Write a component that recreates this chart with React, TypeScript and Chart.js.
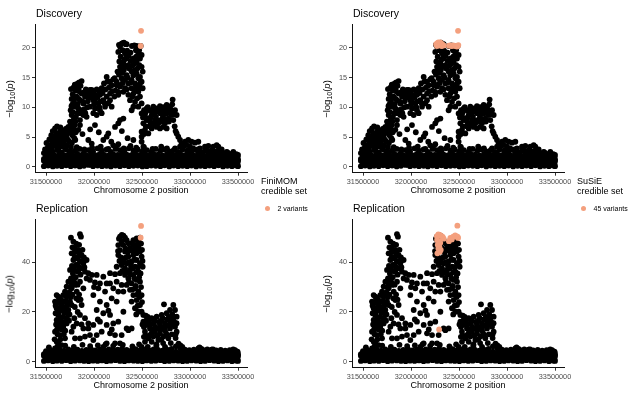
import React, { useEffect, useRef } from 'react';
import { Chart, registerables } from 'chart.js';

Chart.register(...registerables);

const FONT = '"Liberation Sans", Arial, Helvetica, sans-serif';
const ORANGE = '#F4A07E';
const R = 2.9;

// ---- axis ticks ----
const X_TICKS = [31500000, 32000000, 32500000, 33000000, 33500000];
const DISC_Y_TICKS = [0, 5, 10, 15, 20];
const REP_Y_TICKS = [0, 20, 40];

// ---- positions (kb) of the dense low -log10(p) band ----
const rowXA = [31478, 31522, 31571, 31615, 31664, 31710, 31757, 31803, 31851, 31896, 31944, 31990, 32037, 32083, 32131, 32176, 32224, 32270, 32317, 32363, 32411, 32456, 32504, 32550, 32597, 32643, 32691, 32736, 32784, 32830, 32877, 32923, 32971, 33016, 33064, 33110, 33157, 33203, 33251, 33296, 33344, 33390, 33437, 33482, 33500];
const rowXB = [31500, 31546, 31593, 31640, 31687, 31733, 31780, 31827, 31873, 31920, 31967, 32013, 32060, 32107, 32153, 32200, 32247, 32293, 32340, 32387, 32433, 32480, 32527, 32573, 32620, 32667, 32713, 32760, 32807, 32853, 32900, 32947, 32993, 33040, 33087, 33133, 33180, 33227, 33273, 33320, 33367, 33413, 33460, 33495];

// ---- Discovery band values ----
const discYA = [0.1, 0.2, 0.05, 0.15, 0.1, 0.25, 0.1, 0.2, 0.05, 0.15, 0.3, 0.1, 0.2, 0.1, 0.15, 0.05, 0.2, 0.1, 0.25, 0.1, 0.15, 0.2, 0.05, 0.1, 0.2, 0.15, 0.1, 0.25, 0.05, 0.2, 0.1, 0.15, 0.1, 0.2, 0.05, 0.15, 0.1, 0.2, 0.1, 0.25, 0.05, 0.15, 0.1, 0.2, 0.1];
const discYA2 = [0.4, 0.45, 0.35, 0.5, 0.4, 0.45, 0.35, 0.5, 0.4, 0.45, 0.35, 0.4, 0.5, 0.45, 0.35, 0.4, 0.5, 0.4, 0.45, 0.35, 0.5, 0.4, 0.45, 0.35, 0.4, 0.5, 0.45, 0.4, 0.35, 0.5, 0.4, 0.45, 0.35, 0.4, 0.5, 0.45, 0.4, 0.35, 0.5, 0.4, 0.45, 0.35, 0.4, 0.45];
const discYB = [0.7, 0.8, 0.65, 0.9, 0.75, 0.7, 0.85, 0.6, 0.8, 0.7, 0.9, 0.65, 0.75, 0.8, 0.7, 0.85, 0.6, 0.75, 0.9, 0.7, 0.8, 0.65, 0.75, 0.85, 0.7, 0.8, 0.6, 0.9, 0.75, 0.7, 0.8, 0.65, 0.85, 0.7, 0.75, 0.8, 0.6, 0.9, 0.7, 0.75, 0.8, 0.65, 0.7, 0.8];
const discYB2 = [1.0, 1.05, 0.95, 1.1, 1.0, 1.05, 0.95, 1.0, 1.1, 1.05, 0.95, 1.0, 1.05, 1.1, 0.95, 1.0, 1.05, 1.0, 0.95, 1.1, 1.05, 1.0, 0.95, 1.05, 1.1, 1.0, 0.95, 1.05, 1.0, 1.1, 0.95, 1.0, 1.05, 1.1, 1.0, 0.95, 1.05, 1.0, 1.1, 0.95, 1.0, 1.05, 1.0, 0.95, 1.0];
const discYC = [1.3, 1.4, 1.2, 1.5, 1.35, 1.25, 1.45, 1.3, 1.4, 1.2, 1.5, 1.35, 1.3, 1.45, 1.25, 1.4, 1.3, 1.5, 1.2, 1.35, 1.45, 1.3, 1.4, 1.25, 1.5, 1.35, 1.3, 1.45, 1.2, 1.4, 1.3, 1.5, 1.35, 1.25, 1.4, 1.3, 1.45, 1.2, 1.35, 1.4, 1.3, 1.25, 1.45, 1.3, 1.2];
const discYC2 = [1.6, 1.65, 1.55, 1.7, 1.6, 1.65, 1.55, 1.6, 1.7, 1.65, 1.55, 1.6, 1.65, 1.7, 1.55, 1.6, 1.65, 1.6, 1.55, 1.7, 1.65, 1.6, 1.55, 1.65, 1.7, 1.6, 1.55, 1.65, 1.6, 1.7, 1.55, 1.6, 1.65, 1.7, 1.6, 1.55, 1.65, 1.6, 1.7, 1.55, 1.6, 1.65, 1.6, 1.55];
const discYD = [1.9, 2.0, 1.85, 2.1, 1.95, 2.05, 1.9, 2.15, 2.0, 1.9, 2.1, 1.95, 2.15, 2.0, 1.9, 2.1, 2.0, 2.15, 2.05, 1.95, 2.1, 2.0, 2.1, 1.95, 2.15, 2.05, 1.9, 2.1, 2.15, 2.0, 2.1, 1.95, 2.05, 1.9, 2.1, 2.0, 1.9, 2.05, 1.95, 1.9, 1.85, 1.95, 1.8, 1.75];
const discYE = [2.3, 2.6, 2.5, 2.8, 2.4, 2.9, 2.6, 2.7, 3.0, 2.5, 2.8, 2.6, 3.1, 2.7, 2.9, 2.5, 3.0, 2.8, 2.6, 3.1, 2.7, 2.9, 2.6, 2.8, 2.5, 3.0, 2.7, 2.9, 2.6, 2.8, 2.5, 2.9, 2.7, 2.6, 2.8, 2.5, 2.7, 2.4, 2.6, 2.5, 2.3, 2.4, 2.2, 2.1, 2.0];
const discTop = [[31560, 3.0], [31700, 3.1], [31820, 3.3], [31900, 2.9], [31980, 3.2], [32070, 3.4], [32150, 3.0], [32230, 3.3], [32310, 3.1], [32380, 3.5], [32440, 3.2], [32520, 3.3], [32610, 3.0], [32700, 3.4], [32760, 3.1], [33000, 3.0], [33080, 2.9], [33300, 2.8]];

// ---- Discovery signal points (kb, -log10 p) ----
const discCloud = [
  [31490, 2.9], [31520, 3.3], [31542, 3.4], [31560, 3.9], [31580, 4.4], [31594, 6.45], [31600, 5.2], [31611, 5.6], [31620, 4.0], [31628, 4.8], [31640, 3.6], [31646, 5.9], [31655, 4.3], [31663, 4.5], [31670, 5.0], [31680, 5.3], [31690, 3.8], [31698, 6.2], [31706, 4.6], [31715, 5.0], [31725, 5.6], [31733, 6.7], [31742, 4.2], [31750, 5.9], [31758, 6.9], [31767, 7.3], [31776, 5.3], [31785, 6.45], [31795, 4.8], [31590, 3.5], [31630, 3.1], [31675, 3.4], [31720, 3.6], [31760, 3.3], [31800, 7.0], [31810, 5.8],
  [31505, 4.0], [31535, 4.6], [31555, 5.3], [31570, 6.0], [31585, 5.0], [31605, 4.3], [31615, 6.8], [31635, 5.3], [31650, 6.6], [31660, 3.9], [31685, 6.0], [31695, 4.9], [31710, 6.4], [31730, 4.5], [31745, 6.2], [31770, 4.0], [31780, 5.8], [31805, 4.5],
  [31760, 13.06], [31785, 13.3], [31819, 13.7], [31847, 14.2], [31871, 14.4], [31837, 13.2], [31767, 11.4], [31792, 10.9], [31820, 11.8], [31854, 11.2], [31802, 10.1], [31837, 9.8], [31871, 9.5], [31767, 8.7], [31812, 8.4], [31854, 7.85], [31889, 8.7], [31923, 8.4], [31757, 9.5], [31889, 10.65], [31906, 11.8], [31941, 12.3], [31958, 12.9], [31871, 12.3], [31854, 7.0], [31750, 7.6], [31780, 9.2], [31830, 10.5], [31845, 12.7], [31778, 12.2], [31805, 7.6], [31790, 8.0], [31860, 9.0], [31900, 9.7], [31935, 11.0], [31915, 13.0],
  [31775, 10.5], [31795, 11.6], [31810, 12.8], [31825, 9.0], [31840, 11.4], [31860, 13.6], [31880, 11.0], [31895, 12.5], [31910, 9.0], [31930, 10.0], [31950, 11.6], [31765, 10.2], [31800, 13.8], [31830, 14.0],
  [31976, 12.9], [32000, 12.4], [32028, 13.0], [32055, 12.7], [32080, 13.2], [32104, 14.0], [32132, 15.1], [32167, 14.3], [32201, 14.7], [32184, 13.7], [32062, 12.1], [32010, 11.2], [32045, 10.65], [32097, 11.2], [32132, 11.8], [32167, 12.3], [32010, 9.8], [32062, 9.5], [32115, 10.1], [32149, 10.65], [32028, 8.7], [32080, 9.0], [32167, 11.2], [32212, 11.8], [31958, 10.1], [31993, 9.0], [32236, 13.7], [32253, 12.1], [32184, 10.1], [31993, 11.2],
  [31985, 12.0], [32020, 12.0], [32035, 11.7], [32070, 11.0], [32090, 12.4], [32120, 13.0], [32140, 14.3], [32155, 13.3], [32190, 12.7], [32215, 14.9], [32225, 12.8], [32110, 10.7], [32055, 10.0], [32000, 10.5],
  [32010, 7.0], [32132, 5.05], [32149, 5.6], [32219, 6.7], [32253, 7.3], [32271, 7.85], [32306, 8.1], [32097, 4.5], [32201, 3.6], [32253, 3.8], [32410, 4.5], [31941, 4.5], [31976, 3.9], [31837, 6.2], [31880, 5.5], [31960, 6.3], [32050, 5.8], [32180, 4.2], [32350, 4.8], [32290, 6.0],
  [32253, 19.3], [32271, 20.2], [32288, 20.7], [32312, 20.85], [32340, 20.6], [32298, 19.6], [32323, 19.1], [32278, 18.5], [32333, 18.2], [32264, 17.7], [32306, 17.4], [32358, 17.1], [32271, 16.8], [32312, 16.3], [32368, 16.5], [32392, 16.0], [32340, 15.4], [32410, 15.4], [32444, 15.7], [32462, 14.9], [32392, 14.6], [32427, 14.0], [32358, 14.0], [32323, 14.6], [32288, 14.9], [32236, 14.3], [32271, 13.5], [32323, 13.2], [32392, 13.2], [32444, 13.5], [32479, 14.0], [32410, 12.3], [32462, 12.6], [32358, 12.1], [32375, 11.2], [32427, 10.9], [32479, 11.8], [32410, 10.1], [32462, 10.1], [32496, 10.65], [32392, 9.5], [32306, 12.6], [32253, 12.6],
  [32245, 16.0], [32260, 15.5], [32280, 16.2], [32300, 15.8], [32330, 16.8], [32350, 15.0], [32380, 17.8], [32400, 17.0], [32420, 16.2], [32440, 18.5], [32455, 19.8], [32470, 19.6], [32380, 19.2], [32360, 18.6], [32345, 19.5], [32290, 17.0], [32315, 18.0], [32385, 14.2], [32430, 12.8], [32450, 11.5], [32470, 13.2], [32400, 11.8], [32340, 13.0], [32280, 13.8], [32300, 14.1],
  [32462, 19.1], [32479, 18.2], [32496, 18.8], [32444, 17.7], [32472, 17.1], [32496, 16.8], [32451, 16.5], [32507, 16.0], [32479, 15.1], [32496, 14.3], [32507, 13.2], [32427, 17.4], [32410, 18.2], [32437, 19.6],
  [32395, 20.3], [32420, 20.4], [32444, 20.3], [32466, 20.2], [32486, 20.3], [32260, 20.5], [32300, 20.8], [32330, 20.6],
  [32496, 8.97], [32521, 9.5], [32549, 9.8], [32583, 9.5], [32618, 10.1], [32653, 9.8], [32687, 10.2], [32722, 10.0], [32757, 10.4], [32792, 10.1], [32819, 11.3], [32844, 9.5], [32861, 8.7], [32531, 8.7], [32566, 8.1], [32601, 8.7], [32635, 7.85], [32670, 7.3], [32705, 7.6], [32739, 7.3], [32774, 8.1], [32809, 8.7], [32826, 7.85], [32653, 6.7], [32687, 6.45], [32722, 6.7], [32757, 6.45], [32618, 7.3], [32583, 7.6], [32549, 7.85], [32514, 7.3], [32531, 6.2], [32496, 5.9], [32566, 5.6], [32601, 6.45], [32792, 9.0], [32757, 9.0], [32722, 8.7], [32687, 9.0], [32496, 5.05], [32496, 4.2], [32514, 3.4],
  [32540, 9.2], [32560, 10.0], [32590, 8.3], [32610, 9.3], [32630, 9.0], [32645, 8.4], [32665, 9.3], [32680, 7.8], [32700, 9.6], [32715, 8.2], [32730, 9.4], [32750, 8.0], [32765, 9.6], [32780, 7.6], [32800, 9.6], [32815, 10.5], [32835, 8.8], [32840, 6.8], [32850, 6.0], [32640, 7.0], [32580, 6.8], [32540, 6.8], [32510, 8.3], [32520, 5.5],
  [32861, 5.6], [32878, 5.05], [32896, 4.5], [32913, 3.9], [32948, 4.2], [32982, 4.5], [33017, 4.2], [33052, 4.05], [33087, 4.2], [32930, 3.4], [32965, 3.65], [33000, 3.4], [32896, 3.4], [32844, 3.1], [33034, 3.1], [33104, 3.1],
  [33156, 3.4], [33191, 3.5], [33243, 3.4], [33278, 3.65], [33295, 3.4], [33173, 2.8], [33226, 2.8], [33330, 2.9], [33382, 2.5], [33451, 2.5], [33469, 2.0],
];

// ---- Replication band values ----
const repYA = [0.3, 0.5, 0.2, 0.4, 0.3, 0.6, 0.2, 0.4, 0.5, 0.3, 0.2, 0.4, 0.3, 0.5, 0.2, 0.4, 0.6, 0.3, 0.2, 0.5, 0.4, 0.3, 0.2, 0.5, 0.3, 0.4, 0.6, 0.2, 0.3, 0.5, 0.4, 0.2, 0.3, 0.5, 0.4, 0.2, 0.3, 0.6, 0.4, 0.2, 0.3, 0.5, 0.2, 0.4, 0.3];
const repYA2 = [1.0, 1.1, 0.9, 1.2, 1.0, 1.1, 0.9, 1.0, 1.2, 1.1, 0.9, 1.0, 1.1, 1.2, 0.9, 1.0, 1.1, 1.0, 0.9, 1.2, 1.1, 1.0, 0.9, 1.1, 1.2, 1.0, 0.9, 1.1, 1.0, 1.2, 0.9, 1.0, 1.1, 1.2, 1.0, 0.9, 1.1, 1.0, 1.2, 0.9, 1.0, 1.1, 1.0, 0.9];
const repYB = [1.7, 1.9, 1.5, 1.8, 1.6, 2.0, 1.7, 1.5, 1.9, 1.8, 1.6, 1.7, 2.0, 1.5, 1.8, 1.9, 1.6, 1.7, 1.5, 2.0, 1.8, 1.6, 1.9, 1.7, 1.5, 1.8, 2.0, 1.6, 1.7, 1.9, 1.5, 1.8, 1.6, 1.7, 2.0, 1.9, 1.5, 1.7, 1.8, 1.6, 1.9, 1.7, 1.5, 1.8];
const repYB2 = [2.4, 2.5, 2.3, 2.6, 2.4, 2.5, 2.3, 2.4, 2.6, 2.5, 2.3, 2.4, 2.5, 2.6, 2.3, 2.4, 2.5, 2.4, 2.3, 2.6, 2.5, 2.4, 2.3, 2.5, 2.6, 2.4, 2.3, 2.5, 2.4, 2.6, 2.3, 2.4, 2.5, 2.6, 2.4, 2.3, 2.5, 2.4, 2.6, 2.3, 2.4, 2.5, 2.4, 2.3, 2.4];
const repYC = [3.0, 3.2, 2.9, 3.3, 3.1, 3.0, 3.4, 3.2, 2.9, 3.1, 3.3, 3.0, 3.2, 3.1, 2.9, 3.4, 3.0, 3.2, 3.1, 3.3, 2.9, 3.0, 3.2, 3.4, 3.1, 3.0, 3.3, 2.9, 3.2, 3.1, 3.4, 3.0, 3.2, 2.9, 3.1, 3.3, 3.0, 3.2, 3.1, 2.9, 3.3, 3.0, 3.1, 3.2, 2.9];
const repYC2 = [3.8, 3.9, 3.7, 4.0, 3.8, 3.9, 3.7, 3.8, 4.0, 3.9, 3.7, 3.8, 3.9, 4.0, 3.7, 3.8, 3.9, 3.8, 3.7, 4.0, 3.9, 3.8, 3.7, 3.9, 4.0, 3.8, 3.7, 3.9, 3.8, 4.0, 3.7, 3.8, 3.9, 4.0, 3.8, 3.7, 3.9, 3.8, 4.0, 3.7, 3.8, 3.9, 3.8, 3.7];
const repYD = [4.2, 4.6, 4.0, 4.8, 4.4, 5.0, 4.5, 4.9, 4.3, 4.7, 5.2, 4.5, 4.8, 4.4, 5.0, 4.6, 4.9, 5.3, 4.7, 4.4, 5.1, 4.6, 4.8, 4.5, 5.0, 4.7, 4.4, 4.9, 5.2, 6.2, 5.5, 4.8, 4.6, 4.9, 5.4, 4.7, 5.0, 4.8, 4.5, 4.7, 4.4, 4.6, 4.2, 4.0];
const repTop = [[31530, 5.8], [31620, 6.2], [31700, 6.5], [31790, 6.0], [31880, 6.8], [31960, 6.3], [32040, 6.6], [32120, 7.0], [32200, 6.4], [32300, 6.8], [32400, 6.2], [32470, 7.0], [32560, 6.0], [32650, 6.4], [32740, 6.0], [32880, 7.3], [32900, 6.6], [32920, 6.0], [33100, 5.8], [33120, 5.2], [33225, 4.9], [33240, 5.0], [33450, 5.0], [33470, 4.6]];

// ---- Replication signal points (kb, -log10 p) ----
const repCloud = [
  [31611, 26.8], [31628, 26.2], [31646, 25.5], [31680, 26.8], [31715, 26.2], [31594, 24.2], [31646, 23.5], [31698, 24.2], [31611, 21.5], [31663, 20.8], [31715, 21.5], [31628, 18.8], [31680, 18.1], [31733, 18.8], [31611, 16.8], [31663, 16.1], [31715, 15.4], [31628, 14.1], [31680, 14.1], [31594, 12.1], [31646, 10.7], [31698, 9.4], [31611, 8.0], [31663, 6.7], [31594, 5.4], [31750, 24.2], [31767, 22.8], [31733, 20.8], [31600, 19.5], [31650, 17.5], [31700, 12.5], [31620, 11.0], [31670, 22.5], [31590, 9.0], [31640, 25.8], [31725, 23.0], [31690, 19.8], [31740, 16.5], [31760, 26.0], [31750, 30.0],
  [31600, 22.5], [31620, 24.0], [31635, 20.0], [31655, 22.0], [31675, 24.5], [31690, 16.0], [31705, 20.0], [31720, 17.0], [31640, 15.0], [31660, 13.0], [31615, 13.0], [31605, 15.0], [31650, 9.0], [31630, 7.5], [31685, 11.0], [31710, 24.5], [31730, 26.5], [31745, 19.0],
  [31760, 49.9], [31854, 51.3], [31864, 50.3], [31785, 48.3], [31802, 45.6], [31819, 44.3], [31767, 43.6], [31837, 42.3], [31871, 42.9], [31785, 40.9], [31854, 40.3], [31889, 39.6], [31923, 40.9], [31812, 38.9], [31871, 37.6], [31837, 36.2], [31906, 36.2], [31941, 35.6], [31976, 34.9], [31750, 36.9], [31785, 33.5], [31767, 31.5], [31733, 32.2], [31715, 30.2], [31698, 28.2], [31767, 29.5], [31802, 30.9], [31820, 28.2], [31854, 32.2], [31889, 29.5], [31923, 33.5], [31837, 24.8], [31871, 22.8], [31854, 18.8], [31906, 17.5], [31941, 15.4], [31819, 15.4], [31785, 14.1], [31767, 12.1], [31802, 9.4], [31854, 9.4], [31906, 10.1], [31958, 10.7], [31941, 13.4], [31889, 13.4], [31845, 47.0], [31830, 39.0], [31800, 42.0], [31880, 45.0], [31790, 37.5], [31860, 35.0], [31810, 34.0], [31900, 38.0],
  [31775, 46.0], [31795, 44.0], [31815, 47.5], [31835, 45.0], [31850, 43.5], [31825, 41.5], [31810, 36.5], [31845, 38.0], [31875, 40.5], [31895, 42.0], [31770, 38.5], [31780, 35.5], [31795, 32.0], [31830, 31.0], [31845, 27.0], [31815, 25.5], [31800, 22.0], [31830, 20.0], [31860, 25.0], [31870, 15.0], [31795, 17.5], [31775, 27.0], [31760, 33.5], [31745, 28.0],
  [31958, 32.9], [32010, 31.9], [32062, 31.5], [32028, 34.9], [32097, 34.2], [32132, 31.5], [32045, 29.5], [32115, 28.2], [31993, 26.8], [32062, 24.2], [32132, 22.8], [32028, 20.8], [32097, 19.5], [32167, 18.8], [32062, 16.1], [31993, 14.8], [32132, 14.8], [32201, 15.4], [32253, 16.1], [32306, 20.1], [32080, 12.1], [32167, 11.4], [32219, 10.7], [32028, 10.7], [31993, 8.7], [32132, 7.4], [32219, 7.4], [32271, 7.4], [32097, 6.0], [32288, 10.7], [32340, 13.4], [32358, 12.7], [32392, 13.4], [32167, 35.6], [32219, 35.2], [32271, 35.6], [32323, 34.9], [32375, 35.2], [32236, 32.2], [32288, 30.9], [32167, 31.5], [32201, 29.5], [32253, 28.2], [32306, 28.2], [32184, 25.5], [32236, 24.2], [32000, 30.0], [32150, 20.5], [32040, 17.0], [32185, 13.0],
  [32271, 50.3], [32306, 50.7], [32323, 49.9], [32340, 48.9], [32288, 48.3], [32253, 46.9], [32306, 46.9], [32358, 47.6], [32271, 44.9], [32323, 44.3], [32375, 45.6], [32253, 42.9], [32306, 41.6], [32358, 42.3], [32410, 42.9], [32444, 43.6], [32427, 45.6], [32392, 47.6], [32410, 48.9], [32444, 49.6], [32462, 48.3], [32479, 49.9], [32462, 46.3], [32479, 44.3], [32496, 42.3], [32444, 40.9], [32392, 40.3], [32340, 39.6], [32288, 38.9], [32236, 38.2], [32323, 37.6], [32375, 36.9], [32427, 38.2], [32479, 39.6], [32507, 38.2], [32462, 36.2], [32410, 34.9], [32358, 33.5], [32444, 32.9], [32479, 32.2], [32392, 31.5], [32427, 29.5], [32462, 28.2], [32496, 26.8], [32410, 26.8], [32444, 24.8], [32479, 22.8], [32392, 24.2], [32427, 21.5], [32462, 20.1], [32375, 28.9], [32340, 30.9], [32260, 49.5], [32290, 51.0], [32330, 45.5], [32280, 42.0], [32350, 44.0], [32420, 41.0], [32500, 45.0], [32470, 34.0], [32490, 30.0],
  [32250, 44.5], [32265, 40.5], [32295, 36.5], [32315, 40.0], [32335, 42.0], [32345, 36.0], [32365, 40.0], [32385, 38.5], [32400, 44.5], [32415, 46.8], [32435, 47.0], [32450, 45.5], [32490, 47.5], [32505, 40.5], [32455, 38.0], [32440, 36.0], [32400, 37.5], [32420, 33.5], [32435, 30.5], [32450, 27.0], [32475, 26.0], [32485, 35.5], [32400, 29.0], [32455, 22.5], [32440, 19.0], [32500, 24.0], [32365, 32.0],
  [32496, 20.1], [32514, 18.8], [32549, 16.8], [32601, 17.5], [32653, 18.1], [32705, 18.8], [32757, 19.5], [32792, 20.8], [32826, 22.8], [32729, 23.1], [32844, 20.8], [32549, 14.8], [32583, 13.4], [32635, 14.1], [32687, 14.8], [32739, 15.4], [32792, 16.1], [32826, 17.5], [32861, 18.1], [32531, 12.1], [32583, 10.7], [32635, 12.1], [32687, 11.4], [32739, 12.7], [32792, 13.4], [32844, 14.1], [32861, 12.1], [32566, 9.4], [32618, 10.1], [32670, 8.7], [32722, 10.1], [32774, 9.4], [32601, 8.0], [32514, 16.1], [32531, 8.0], [32496, 6.0], [32878, 6.7], [32896, 6.0], [32913, 5.4], [32560, 18.0], [32620, 15.5], [32700, 16.5], [32760, 17.0], [32810, 11.0], [32850, 9.5], [32650, 7.0], [32720, 7.5], [32800, 7.5],
  [32505, 15.0], [32520, 14.0], [32540, 18.5], [32570, 16.0], [32590, 15.2], [32610, 12.8], [32630, 16.5], [32660, 13.3], [32675, 16.0], [32695, 13.0], [32715, 17.5], [32730, 14.0], [32750, 11.5], [32770, 14.5], [32780, 18.0], [32805, 14.8], [32815, 19.0], [32835, 16.0], [32850, 11.0], [32860, 15.5], [32540, 10.5], [32600, 11.5], [32660, 10.5], [32700, 9.0], [32760, 10.8], [32520, 10.0],
];

// ---- credible sets ----
const finimomDisc = [[32490, 22.85], [32486, 20.3]];
const finimomRep = [[32490, 54.6], [32486, 49.9]];
const susieDisc = [[32262, 20.6], [32275, 20.8], [32285, 20.9], [32295, 20.75], [32305, 20.9], [32318, 20.7], [32330, 20.5], [32340, 20.4], [32270, 20.3], [32300, 20.4], [32320, 20.3], [32395, 20.35], [32410, 20.4], [32425, 20.3], [32440, 20.4], [32462, 20.3], [32478, 20.2], [32486, 20.3], [32493, 20.45], [32490, 22.85]];
const susieRep = [[32483, 54.7], [32270, 50.5], [32285, 51.2], [32300, 51.0], [32315, 50.6], [32330, 50.2], [32340, 49.5], [32272, 49.0], [32290, 48.5], [32305, 47.8], [32278, 47.0], [32295, 46.3], [32285, 45.5], [32300, 44.2], [32275, 43.6], [32310, 45.0], [32395, 48.5], [32410, 49.8], [32425, 49.2], [32440, 50.3], [32460, 50.8], [32478, 50.4], [32490, 49.8], [32486, 50.2], [32293, 13.0]];

const toPts = (list: number[][]) => list.map(([kb, y]) => ({ x: kb * 1000, y }));
const rowPts = (xs: number[], ys: number[]) => xs.map((kb, i) => ({ x: kb * 1000, y: ys[i] }));

const discBlack = [
  ...rowPts(rowXA, discYA), ...rowPts(rowXB, discYA2), ...rowPts(rowXB, discYB), ...rowPts(rowXA, discYB2),
  ...rowPts(rowXA, discYC), ...rowPts(rowXB, discYC2), ...rowPts(rowXB, discYD), ...rowPts(rowXA, discYE),
  ...toPts(discTop), ...toPts(discCloud),
];
const repBlack = [
  ...rowPts(rowXA, repYA), ...rowPts(rowXB, repYA2), ...rowPts(rowXB, repYB), ...rowPts(rowXA, repYB2),
  ...rowPts(rowXA, repYC), ...rowPts(rowXB, repYC2), ...rowPts(rowXB, repYD),
  ...toPts(repTop), ...toPts(repCloud),
];

const X_MIN = 31385400;
const X_MAX = 33593700;

type PanelProps = {
  left: number; top: number; width: number; height: number;
  black: { x: number; y: number }[]; hi: { x: number; y: number }[];
  yMin: number; yMax: number; yTicks: number[]; xAxisH: number;
};

function Panel(p: PanelProps) {
  const ref = useRef<HTMLCanvasElement | null>(null);
  useEffect(() => {
    if (!ref.current) return;
    const tickFont = { family: FONT, size: 7.3 };
    const chart = new Chart(ref.current, {
      type: 'scatter',
      data: {
        datasets: [
          { data: p.hi, backgroundColor: ORANGE, borderWidth: 0, pointRadius: R, pointHoverRadius: R },
          { data: p.black, backgroundColor: '#000000', borderWidth: 0, pointRadius: R, pointHoverRadius: R },
        ],
      },
      options: {
        animation: false,
        responsive: false,
        devicePixelRatio: 1,
        events: [],
        layout: { padding: { top: 24, right: p.width - 247, left: 0, bottom: 0 } },
        plugins: { legend: { display: false }, title: { display: false }, tooltip: { enabled: false } },
        scales: {
          x: {
            type: 'linear', min: X_MIN, max: X_MAX,
            afterBuildTicks: (s: any) => { s.ticks = X_TICKS.map((v) => ({ value: v })); },
            afterFit: (s: any) => { s.height = p.xAxisH; },
            ticks: { callback: (v: any) => String(v), font: tickFont, color: '#4D4D4D', padding: 2, maxRotation: 0, minRotation: 0, autoSkip: false },
            grid: { drawOnChartArea: false, drawTicks: true, tickLength: 3, color: '#333333', lineWidth: 1 },
            border: { display: true, color: '#111111', width: 1 },
          },
          y: {
            type: 'linear', min: p.yMin, max: p.yMax,
            afterBuildTicks: (s: any) => { s.ticks = p.yTicks.map((v) => ({ value: v })); },
            afterFit: (s: any) => { s.width = 35; },
            ticks: { callback: (v: any) => String(v), font: tickFont, color: '#4D4D4D', padding: 2, autoSkip: false },
            grid: { drawOnChartArea: false, drawTicks: true, tickLength: 3, color: '#333333', lineWidth: 1 },
            border: { display: true, color: '#111111', width: 1 },
          },
        },
      } as any,
    });
    return () => chart.destroy();
  }, []);
  return (
    <canvas ref={ref} width={p.width} height={p.height}
      style={{ position: 'absolute', left: p.left, top: p.top, width: p.width, height: p.height }} />
  );
}

const txt = (s: any) => ({ position: 'absolute' as const, whiteSpace: 'nowrap' as const, lineHeight: '1', color: '#000', ...s });

function PanelText({ dx, dy, title }: { dx: number; dy: number; title: string }) {
  return (
    <>
      <div style={txt({ left: 36 + dx, top: 8.4 + dy, fontSize: 10.5 })}>{title}</div>
      <div style={txt({ left: 141 + dx, top: 185.7 + dy, fontSize: 9, transform: 'translateX(-50%)' })}>Chromosome 2 position</div>
      <div style={txt({ left: 9.5 + dx, top: 98.5 + dy, fontSize: 9.5, transform: 'translate(-50%,-50%) rotate(-90deg)' })}>
        −log<sub style={{ fontSize: 7, verticalAlign: '-2px' }}>10</sub>(<i>p</i>)
      </div>
    </>
  );
}

function Legend({ x, name, label }: { x: number; name: string; label: string }) {
  return (
    <>
      <div style={txt({ left: x, top: 177.4, fontSize: 9 })}>{name}</div>
      <div style={txt({ left: x, top: 187.4, fontSize: 9 })}>credible set</div>
      <div style={{ position: 'absolute', left: x + 6.7 - 2.5, top: 208.3 - 2.5, width: 5, height: 5, borderRadius: '50%', background: ORANGE }} />
      <div style={txt({ left: x + 16.5, top: 205, fontSize: 7 })}>{label}</div>
    </>
  );
}

export default function App() {
  return (
    <div style={{ position: 'absolute', left: 0, top: 0, width: 631, height: 393, overflow: 'hidden', background: '#fff', fontFamily: FONT }}>
      <Panel left={0} top={0} width={317} height={195} black={discBlack} hi={toPts(finimomDisc)} yMin={-1.0} yMax={24.0} yTicks={DISC_Y_TICKS} xAxisH={22.3} />
      <Panel left={317} top={0} width={314} height={195} black={discBlack} hi={toPts(susieDisc)} yMin={-1.0} yMax={24.0} yTicks={DISC_Y_TICKS} xAxisH={22.3} />
      <Panel left={0} top={195} width={317} height={198} black={repBlack} hi={toPts(finimomRep)} yMin={-2.41} yMax={57.4} yTicks={REP_Y_TICKS} xAxisH={25.3} />
      <Panel left={317} top={195} width={314} height={198} black={repBlack} hi={toPts(susieRep)} yMin={-2.41} yMax={57.4} yTicks={REP_Y_TICKS} xAxisH={25.3} />
      <PanelText dx={0} dy={0} title="Discovery" />
      <PanelText dx={317} dy={0} title="Discovery" />
      <PanelText dx={0} dy={195} title="Replication" />
      <PanelText dx={317} dy={195} title="Replication" />
      <Legend x={261} name="FiniMOM" label="2 variants" />
      <Legend x={577} name="SuSiE" label="45 variants" />
    </div>
  );
}
